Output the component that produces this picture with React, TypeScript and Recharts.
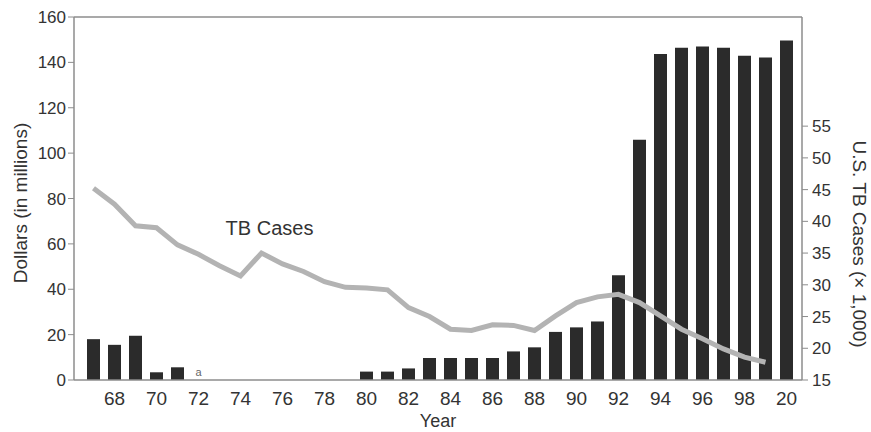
import { ComposedChart, Bar, Line, XAxis, YAxis, ReferenceLine, ReferenceDot } from "recharts";

// fiscal years 1967 - 2000
const years = [
  1967, 1968, 1969, 1970, 1971, 1972, 1973, 1974, 1975, 1976, 1977, 1978,
  1979, 1980, 1981, 1982, 1983, 1984, 1985, 1986, 1987, 1988, 1989, 1990,
  1991, 1992, 1993, 1994, 1995, 1996, 1997, 1998, 1999, 2000,
];

// federal funding, dollars in millions
const dollars = [
  18, 15.5, 19.5, 3.4, 5.6, 0, 0, 0, 0, 0, 0, 0,
  0, 3.7, 3.7, 5.1, 9.7, 9.7, 9.7, 9.7, 12.6, 14.4, 21.2, 23.2,
  25.8, 46.2, 105.9, 143.7, 146.5, 147, 146.5, 142.9, 142.1, 149.6,
];

// U.S. TB cases (x 1,000)
const tbCases = [
  45.2, 42.7, 39.3, 39.0, 36.3, 34.8, 33.0, 31.4, 35.0, 33.3, 32.1, 30.5,
  29.6, 29.5, 29.2, 26.4, 25.0, 23.0, 22.8, 23.7, 23.6, 22.8, 25.1, 27.2,
  28.1, 28.5, 27.2, 25.1, 23.0, 21.5, 19.9, 18.6, 17.8, null,
];

// footnote marker on the 1972 bar
const footnoteYear = 1972;
const footnoteMark = "a";

const tickYears = [1968, 1970, 1972, 1974, 1976, 1978, 1980, 1982, 1984, 1986, 1988, 1990, 1992, 1994, 1996, 1998, 2000];
const tickLabels = ["68", "70", "72", "74", "76", "78", "80", "82", "84", "86", "88", "90", "92", "94", "96", "98", "20"];

const leftTicks = [0, 20, 40, 60, 80, 100, 120, 140, 160];
const rightTicks = [15, 20, 25, 30, 35, 40, 45, 50, 55];

const data = years.map((year, i) => ({
  year,
  dollars: dollars[i],
  cases: tbCases[i],
}));

const FONT = "'Liberation Sans', Arial, Helvetica, sans-serif";
const AXIS = "#8c8c8c";
const TEXT = "#333";
const yTickStyle = { fontSize: 17, fill: TEXT, fontFamily: FONT };
const xTickStyle = { fontSize: 19, fill: TEXT, fontFamily: FONT };

export default function App() {
  return (
    <div style={{ position: "absolute", left: 0, top: 0, width: 871, height: 432, background: "#fff" }}>
      <ComposedChart
        width={871}
        height={432}
        data={data}
        margin={{ top: 17, right: 0, bottom: 0, left: 0 }}
        style={{ fontFamily: FONT }}
      >
        <XAxis
          dataKey="year"
          ticks={tickYears}
          tickFormatter={(y) => tickLabels[tickYears.indexOf(y)] ?? ""}
          tickLine={false}
          axisLine={{ stroke: AXIS, strokeWidth: 1.5 }}
          tick={xTickStyle}
          tickMargin={6}
          height={52}
          padding={{ left: 9, right: 5 }}
          label={{ value: "Year", position: "insideBottom", offset: 5, fontSize: 18, fill: TEXT, fontFamily: FONT }}
        />
        <YAxis
          yAxisId="left"
          domain={[0, 160]}
          ticks={leftTicks}
          width={74}
          tick={yTickStyle}
          tickSize={6}
          tickMargin={2}
          axisLine={{ stroke: AXIS, strokeWidth: 1.5 }}
          tickLine={{ stroke: AXIS }}
          label={{ value: "Dollars (in millions)", angle: -90, position: "center", dx: -17, dy: 4.5, fontSize: 19, fill: TEXT, fontFamily: FONT }}
        />
        <YAxis
          yAxisId="right"
          orientation="right"
          domain={[15, 72.2]}
          ticks={rightTicks}
          width={69}
          tick={yTickStyle}
          tickSize={6}
          tickMargin={4}
          axisLine={{ stroke: AXIS, strokeWidth: 1.5 }}
          tickLine={{ stroke: AXIS }}
          label={{ value: "U.S. TB Cases (× 1,000)", angle: 90, position: "center", dx: 23.5, dy: 45.5, fontSize: 19, fill: TEXT, fontFamily: FONT }}
        />
        <ReferenceLine yAxisId="left" y={160} stroke={AXIS} strokeWidth={1.5} />
        <Bar yAxisId="left" dataKey="dollars" fill="#2b2b2b" barSize={13} isAnimationActive={false} />
        <Line
          yAxisId="right"
          dataKey="cases"
          type="linear"
          stroke="#b3b3b3"
          strokeWidth={5}
          dot={false}
          activeDot={false}
          isAnimationActive={false}
          connectNulls={false}
        />
        <ReferenceDot
          yAxisId="left"
          x={footnoteYear}
          y={0}
          r={0}
          fill="none"
          stroke="none"
          label={{ value: footnoteMark, position: "top", offset: 4, fontSize: 11, fill: "#666", fontFamily: FONT }}
        />
        <ReferenceDot
          yAxisId="right"
          x={1975}
          y={38.9}
          r={0}
          fill="none"
          stroke="none"
          label={{ value: "TB Cases", position: "center", dx: 8, fontSize: 20, fill: TEXT, fontFamily: FONT }}
        />
      </ComposedChart>
    </div>
  );
}
